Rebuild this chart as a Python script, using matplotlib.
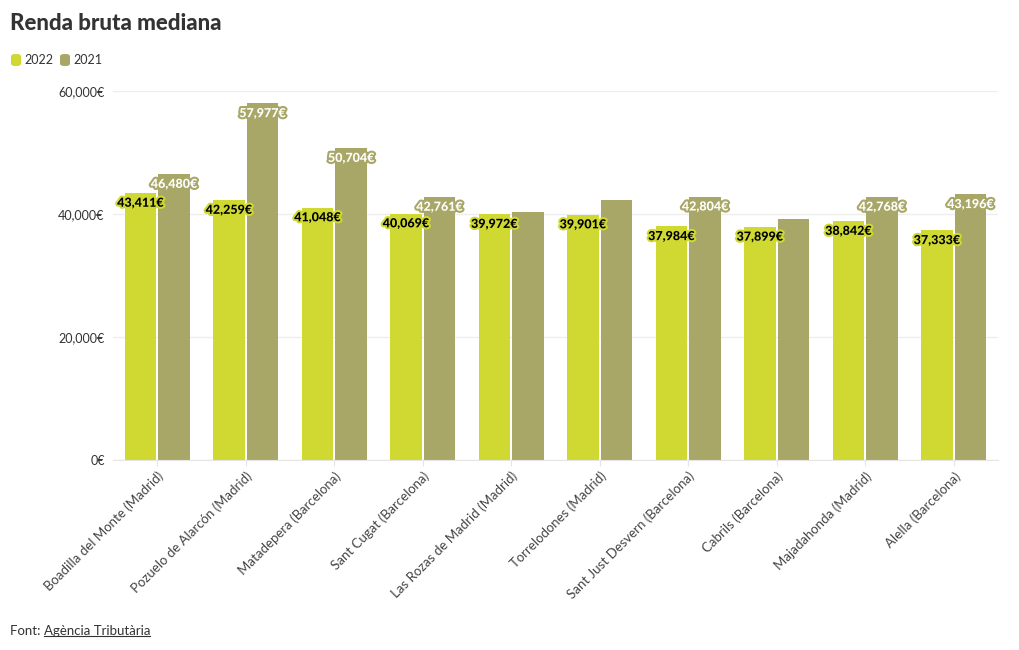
import matplotlib
matplotlib.use("Agg")
import matplotlib.pyplot as plt
import matplotlib.patheffects as pe
from matplotlib.patches import FancyBboxPatch
from matplotlib.lines import Line2D
import numpy as np

plt.rcParams['font.family'] = ['Lato', 'DejaVu Sans']

categories = ["Boadilla del Monte (Madrid)", "Pozuelo de Alarcón (Madrid)", "Matadepera (Barcelona)",
              "Sant Cugat (Barcelona)", "Las Rozas de Madrid (Madrid)", "Torrelodones (Madrid)",
              "Sant Just Desvern (Barcelona)", "Cabrils (Barcelona)", "Majadahonda (Madrid)",
              "Alella (Barcelona)"]
values_2022 = [43411, 42259, 41048, 40069, 39972, 39901, 37984, 37899, 38842, 37333]
values_2021 = [46480, 57977, 50704, 42761, 40400, 42200, 42804, 39250, 42768, 43196]
show_label_2021 = [True, True, True, True, False, False, True, False, True, True]
yticks = [0, 20000, 40000, 60000]
ytick_labels = ["0€", "20,000€", "40,000€", "60,000€"]

c2022 = "#cfd932"
c2021 = "#a8a767"

W, H = 1020, 650
fig = plt.figure(figsize=(W / 100, H / 100), dpi=100)
ax = fig.add_axes([113 / W, 1 - 460 / H, 885 / W, (460 - 91) / H])

x = np.arange(len(categories))
bw = 0.36
off = 0.19
ax.bar(x - off, values_2022, width=bw, color=c2022, zorder=2)
ax.bar(x + off, values_2021, width=bw, color=c2021, zorder=2)

ax.set_xlim(-0.5, len(categories) - 0.5)
ax.set_ylim(0, 60000)
ax.set_yticks(yticks)
ax.set_yticklabels(ytick_labels, fontsize=9, color="#333333")
ax.set_xticks(x)
ax.set_xticklabels(categories, rotation=45, ha="right", rotation_mode="anchor",
                   fontsize=9.5, color="#444444")
ax.tick_params(axis="y", length=0, pad=6)
ax.tick_params(axis="x", length=4, color="#e6e6e6", pad=3)
ax.grid(axis="y", color="#eeeeee", linewidth=1, zorder=0)
for s in ["top", "right", "left"]:
    ax.spines[s].set_visible(False)
ax.spines["bottom"].set_color("#e6e6e6")

# data labels
for i, v in enumerate(values_2022):
    ax.annotate(f"{v:,}€", (x[i] - off, v), xytext=(0, -7), textcoords="offset points",
                ha="center", va="center", fontsize=9, fontweight="black", color="black",
                path_effects=[pe.withStroke(linewidth=3, foreground=c2022)], zorder=4)
for i, v in enumerate(values_2021):
    if show_label_2021[i]:
        ax.annotate(f"{v:,}€", (x[i] + off, v), xytext=(0, -7), textcoords="offset points",
                    ha="center", va="center", fontsize=9, fontweight="black", color="white",
                    path_effects=[pe.withStroke(linewidth=3, foreground=c2021)], zorder=4)

# title
fig.text(10 / W, 1 - 24 / H, "Renda bruta mediana", fontsize=16, fontweight="black",
         color="#333333", ha="left", va="center")

# legend
for (lx, lab, col) in [(11, "2022", c2022), (60, "2021", c2021)]:
    p = FancyBboxPatch((lx / W, 1 - 66 / H), 10 / W, 12 / H,
                       boxstyle="round,pad=0,rounding_size=0.004", transform=fig.transFigure,
                       facecolor=col, edgecolor="none")
    fig.patches.append(p)
    fig.text((lx + 13) / W, 1 - 60 / H, lab, fontsize=9, color="#333333", ha="left", va="center")

# footer
t1 = fig.text(10 / W, 1 - 631 / H, "Font: ", fontsize=9.5, color="#333333", ha="left", va="center")
fig.canvas.draw()
r = fig.canvas.get_renderer()
bb = t1.get_window_extent(r)
t2 = fig.text(bb.x1 / W, 1 - 631 / H, "Agència Tributària", fontsize=9.5, color="#333333",
              ha="left", va="center")
fig.canvas.draw()
bb2 = t2.get_window_extent(r)
fig.lines.append(Line2D([bb2.x0 / W, bb2.x1 / W], [(bb2.y0 + 1) / H, (bb2.y0 + 1) / H],
                        transform=fig.transFigure, color="#333333", linewidth=0.8))

fig.savefig("out.png", dpi=100)
